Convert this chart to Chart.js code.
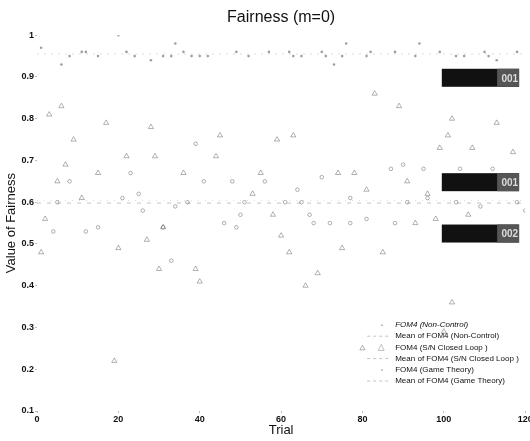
<!DOCTYPE html>
<html>
<head>
<meta charset="utf-8">
<script src="https://cdn.jsdelivr.net/npm/chart.js@4/dist/chart.umd.min.js"></script>
<style>
  body { margin: 0; background: #fff; }
  #wrap { width: 530px; height: 441px; }
</style>
</head>
<body>
<div id="wrap"><canvas id="fairChart" width="530" height="441"></canvas></div>
<script>
// valores
const nonControlTrial = [1, 6, 8, 11, 12, 15, 20, 22, 24, 28, 31, 33, 34, 36, 38, 40, 42, 49, 52, 57, 62, 63, 65, 70, 71, 73, 75, 76, 81, 82, 88, 93, 94, 99, 103, 105, 110, 111, 113, 118];
const nonControlValue = [0.97, 0.93, 0.95, 0.96, 0.96, 0.95, 1.0, 0.96, 0.95, 0.94, 0.95, 0.95, 0.98, 0.96, 0.95, 0.95, 0.95, 0.96, 0.95, 0.96, 0.96, 0.95, 0.95, 0.96, 0.95, 0.93, 0.95, 0.98, 0.95, 0.96, 0.96, 0.95, 0.98, 0.96, 0.95, 0.95, 0.96, 0.95, 0.94, 0.96];

const closedLoopTrial = [1, 2, 3, 5, 6, 7, 9, 11, 15, 17, 19, 20, 22, 27, 28, 29, 30, 31, 36, 39, 40, 44, 45, 53, 55, 58, 59, 60, 62, 63, 66, 69, 74, 75, 78, 80, 81, 83, 85, 89, 91, 93, 96, 98, 99, 100, 101, 102, 102, 106, 107, 113, 117];
const closedLoopValue = [0.48, 0.56, 0.81, 0.65, 0.83, 0.69, 0.75, 0.61, 0.67, 0.79, 0.22, 0.49, 0.71, 0.51, 0.78, 0.71, 0.44, 0.54, 0.67, 0.44, 0.41, 0.71, 0.76, 0.62, 0.67, 0.57, 0.75, 0.52, 0.48, 0.76, 0.40, 0.43, 0.67, 0.49, 0.67, 0.25, 0.63, 0.86, 0.48, 0.83, 0.65, 0.55, 0.62, 0.56, 0.73, 0.29, 0.76, 0.36, 0.80, 0.57, 0.73, 0.79, 0.72];

const gameTheoryTrial = [4, 5, 8, 12, 15, 21, 23, 25, 26, 31, 33, 34, 37, 39, 41, 46, 48, 49, 50, 51, 56, 61, 64, 65, 67, 68, 70, 72, 77, 77, 81, 87, 88, 90, 91, 95, 96, 103, 104, 109, 112, 118, 120];
const gameTheoryValue = [0.53, 0.60, 0.65, 0.53, 0.54, 0.61, 0.67, 0.62, 0.58, 0.54, 0.46, 0.59, 0.60, 0.74, 0.65, 0.55, 0.65, 0.54, 0.57, 0.60, 0.65, 0.60, 0.63, 0.60, 0.57, 0.55, 0.66, 0.55, 0.61, 0.55, 0.56, 0.68, 0.55, 0.69, 0.60, 0.68, 0.61, 0.60, 0.68, 0.59, 0.68, 0.60, 0.58];

const meanNonControl = 0.955;
const meanClosedLoop = 0.598;
const meanGameTheory = 0.604;

const seriesNames = ['FOM4 (Non-Control)', 'Mean of FOM4 (Non-Control)', 'FOM4 (S/N Closed Loop )', 'Mean of FOM4 (S/N Closed Loop )', 'FOM4 (Game Theory)', 'Mean of FOM4 (Game Theory)'];

const xTicks = [0, 20, 40, 60, 80, 100, 120];
const yTicks = [0.1, 0.2, 0.3, 0.4, 0.5, 0.6, 0.7, 0.8, 0.9, 1];
const yTickLabels = ['0.1', '0.2', '0.3', '0.4', '0.5', '0.6', '0.7', '0.8', '0.9', '1'];

// cajas negras de la derecha (etiquetas tapadas)
const boxValue = [0.898, 0.648, 0.525];
const boxLabel = ['001', '001', '002'];
const boxFrom = 99.5;
const boxTo = 118.5;

const toPoints = (xs, ys) => xs.map((x, i) => ({ x: x, y: ys[i] }));
const meanLine = m => [{ x: 0, y: m }, { x: 120, y: m }];

const gris = 'rgba(0,0,0,0.38)';
const grisLinea = 'rgba(0,0,0,0.30)';

const cajasPlugin = {
    id: 'cajas',
    afterDatasetsDraw(chart) {
        const ctx = chart.ctx;
        const xs = chart.scales.x;
        const ys = chart.scales.y;
        ctx.save();
        boxValue.forEach((v, i) => {
            const x0 = xs.getPixelForValue(boxFrom);
            const x1 = xs.getPixelForValue(boxTo);
            const yc = ys.getPixelForValue(v);
            ctx.fillStyle = '#111';
            ctx.fillRect(x0, yc - 9, x1 - x0, 18);
            ctx.fillStyle = '#555';
            ctx.fillRect(x1 - 22, yc - 9, 22, 18);
            ctx.fillStyle = '#ddd';
            ctx.font = 'bold 10px "Liberation Sans", Arial, sans-serif';
            ctx.textAlign = 'right';
            ctx.textBaseline = 'middle';
            ctx.fillText(boxLabel[i], x1 - 1, yc + 1);
        });
        ctx.restore();
    }
};

const leyendaPlugin = {
    id: 'leyenda',
    afterDraw(chart) {
        const ctx = chart.ctx;
        const area = chart.chartArea;
        ctx.save();
        const left = area.right - 130;
        const top = area.bottom - 86;
        ctx.font = '8px "Liberation Sans", Arial, sans-serif';
        ctx.textBaseline = 'middle';
        ctx.textAlign = 'left';
        seriesNames.forEach((name, i) => {
            const y = top + i * 11.2;
            ctx.fillStyle = '#111';
            ctx.font = (i === 0 ? 'italic ' : '') + '8px "Liberation Sans", Arial, sans-serif';
            ctx.fillText(name, left, y);
            // marcadores muy tenues como en la imagen
            ctx.strokeStyle = grisLinea;
            ctx.lineWidth = 0.8;
            const mx = left - 14;
            if (i % 2 === 1) {
                ctx.setLineDash([3, 3]);
                ctx.beginPath();
                ctx.moveTo(mx - 14, y);
                ctx.lineTo(mx + 8, y);
                ctx.stroke();
                ctx.setLineDash([]);
            } else if (i === 2) {
                ctx.beginPath();
                ctx.moveTo(mx - 3, y + 3);
                ctx.lineTo(mx, y - 3);
                ctx.lineTo(mx + 3, y + 3);
                ctx.closePath();
                ctx.stroke();
            } else {
                ctx.fillStyle = gris;
                ctx.fillRect(mx, y - 0.5, 1.5, 1.5);
            }
        });
        ctx.restore();
    }
};

const ctx = document.getElementById('fairChart').getContext('2d');
const fairChart = new Chart(ctx, {
    type: 'scatter',
    data: {
        datasets: [
            {
                label: seriesNames[0],
                data: toPoints(nonControlTrial, nonControlValue),
                pointStyle: 'circle',
                pointRadius: 1.3,
                backgroundColor: gris,
                borderColor: gris,
                borderWidth: 0
            },
            {
                label: seriesNames[1],
                data: meanLine(meanNonControl),
                showLine: true,
                pointRadius: 0,
                borderColor: 'rgba(0,0,0,0.18)',
                borderWidth: 0.8,
                borderDash: [2, 5]
            },
            {
                label: seriesNames[2],
                data: toPoints(closedLoopTrial, closedLoopValue),
                pointStyle: 'triangle',
                pointRadius: 3,
                backgroundColor: 'rgba(0,0,0,0)',
                borderColor: gris,
                borderWidth: 0.8
            },
            {
                label: seriesNames[3],
                data: meanLine(meanClosedLoop),
                showLine: true,
                pointRadius: 0,
                borderColor: grisLinea,
                borderWidth: 0.8,
                borderDash: [4, 6]
            },
            {
                label: seriesNames[4],
                data: toPoints(gameTheoryTrial, gameTheoryValue),
                pointStyle: 'circle',
                pointRadius: 1.8,
                backgroundColor: 'rgba(0,0,0,0)',
                borderColor: gris,
                borderWidth: 0.8
            },
            {
                label: seriesNames[5],
                data: meanLine(meanGameTheory),
                showLine: true,
                pointRadius: 0,
                borderColor: 'rgba(0,0,0,0.18)',
                borderWidth: 0.8,
                borderDash: [1, 6]
            }
        ]
    },
    options: {
        responsive: false,
        animation: false,
        events: [],
        layout: { padding: { left: 0, right: 3, top: 0, bottom: 0 } },
        scales: {
            x: {
                type: 'linear',
                min: 0,
                max: 120,
                afterBuildTicks: s => { s.ticks = xTicks.map(v => ({ value: v })); },
                afterFit: s => { s.height = 30; s.paddingLeft = 0; s.paddingRight = 0; },
                grid: { display: true, drawOnChartArea: false, tickLength: 2, color: '#bbb' },
                border: { display: false },
                ticks: {
                    padding: 1,
                    maxRotation: 0,
                    color: '#111',
                    font: { size: 9, weight: 'bold', family: '"Liberation Sans", Arial, sans-serif' }
                },
                title: {
                    display: true,
                    text: 'Trial',
                    color: '#111',
                    padding: { top: 0, bottom: 3 },
                    font: { size: 13, family: '"Liberation Sans", Arial, sans-serif' }
                }
            },
            y: {
                min: 0.1,
                max: 1,
                afterBuildTicks: s => { s.ticks = yTicks.map(v => ({ value: v })); },
                afterFit: s => { s.width = 37; s.paddingTop = 0; s.paddingBottom = 0; },
                grid: { display: true, drawOnChartArea: false, tickLength: 2, color: '#bbb' },
                border: { display: false },
                ticks: {
                    padding: 1,
                    color: '#111',
                    font: { size: 9, weight: 'bold', family: '"Liberation Sans", Arial, sans-serif' },
                    callback: (v) => {
                        const i = yTicks.findIndex(t => Math.abs(t - v) < 1e-6);
                        return i >= 0 ? yTickLabels[i] : '';
                    }
                },
                title: {
                    display: true,
                    text: 'Value of Fairness',
                    color: '#111',
                    padding: { top: 4, bottom: 0 },
                    font: { size: 13, family: '"Liberation Sans", Arial, sans-serif' }
                }
            }
        },
        plugins: {
            legend: { display: false },
            tooltip: { enabled: false },
            title: {
                display: true,
                fullSize: false,
                text: 'Fairness (m=0)',
                color: '#111',
                padding: { top: 8, bottom: 8 },
                font: { size: 16, weight: 'normal', family: '"Liberation Sans", Arial, sans-serif' }
            }
        }
    },
    plugins: [cajasPlugin, leyendaPlugin]
});
</script>
</body>
</html>
